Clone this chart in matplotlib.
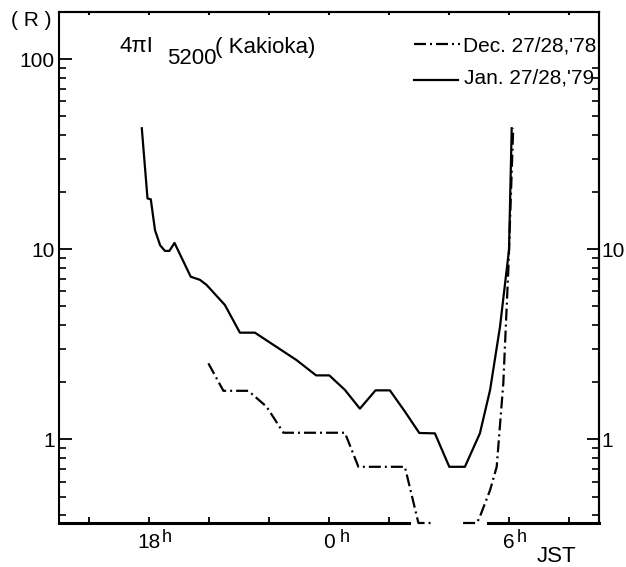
import numpy as np
import matplotlib.pyplot as plt
from matplotlib.ticker import LogLocator, NullFormatter

plt.rcParams['font.family'] = ['Liberation Sans', 'DejaVu Sans']

# hours JST counted on from the evening (24 = 0h, 30 = 6h next morning)
jan_hours = [17.76, 17.95, 18.06, 18.2, 18.37, 18.53, 18.68, 18.85, 19.39, 19.7,
             19.92, 20.53, 21.03, 21.53, 22.92, 23.57, 24.01, 24.53, 25.03, 25.55,
             26.03, 26.53, 27.01, 27.53, 28.01, 28.53, 29.03, 29.37, 29.7, 29.87,
             30.0, 30.09]
jan_r = [43.3, 18.5, 18.3, 12.6, 10.5, 9.8, 9.8, 10.8, 7.17, 6.9,
         6.49, 5.09, 3.64, 3.64, 2.61, 2.17, 2.17, 1.82, 1.45, 1.81,
         1.81, 1.40, 1.08, 1.075, 0.717, 0.717, 1.075, 1.82, 3.91, 6.63,
         9.9, 43.3]

# below the lower limit the record runs along the axis, nan = break
r_floor = 0.363
dec_hours = [19.98, 20.48, 21.31, 21.92, 22.48, 24.53, 24.98, 26.53, 26.98, 27.47,
             np.nan, 28.47, 28.93, 29.03, 29.37, 29.59, 29.81, 29.98, 30.14]
dec_r = [2.51, 1.80, 1.80, 1.485, 1.083, 1.083, 0.717, 0.717, r_floor, r_floor,
         np.nan, r_floor, r_floor, 0.392, 0.541, 0.717, 1.97, 7.97, 43.3]

hour_ticks = [18, 24, 30]
hour_labels = ['18', '0', '6']
minor_hours = [16, 20, 22, 26, 32]
top_hours = list(range(16, 33, 2))

W, H = 626, 567


def fxy(x, y):
    return x / W, 1 - y / H


fig = plt.figure(figsize=(W / 100, H / 100), dpi=100)
ax = fig.add_axes([59 / W, 1 - 523 / H, 540 / W, 511 / H])

dash_dot = (5.4, 1.8, 0.9, 1.8)
ax.plot(jan_hours, jan_r, color='black', lw=1.6)
ax.plot(dec_hours, dec_r, color='black', lw=1.6, dashes=dash_dot, clip_on=False)

ax.set_yscale('log')
ax.set_xlim(15, 33)
ax.set_ylim(r_floor, 177)

for s in ['left', 'top', 'right']:
    ax.spines[s].set_linewidth(1.5)
# bottom line is broken where the Dec. record runs along it
ax.spines['bottom'].set_visible(False)
ax.plot([15, 26.65], [r_floor, r_floor], color='black', lw=2.2, clip_on=False)
ax.plot([29.3, 33], [r_floor, r_floor], color='black', lw=2.2, clip_on=False)

ax.set_xticks(hour_ticks, hour_labels, fontsize=15)
ax.set_xticks(minor_hours, minor=True)
ax.tick_params(axis='x', which='both', direction='in', length=4, width=1.3,
               top=False, pad=7)
for hr, dx in zip(hour_ticks, [13, 11, 8]):
    ax.annotate('h', xy=(hr, 0), xycoords=ax.get_xaxis_transform(),
                xytext=(dx, -14), textcoords='offset pixels',
                ha='left', va='center', fontsize=13)

top = ax.secondary_xaxis('top')
top.set_xticks(top_hours)
top.tick_params(direction='in', length=2.5, width=1.5, labeltop=False)
top.spines['top'].set_linewidth(1.5)

ax.set_yticks([1, 10, 100], ['1', '10', '100'], fontsize=15)
ax.yaxis.set_minor_locator(LogLocator(base=10, subs=np.arange(2, 10)))
ax.yaxis.set_minor_formatter(NullFormatter())
ax.tick_params(axis='y', which='major', direction='in', length=9, width=1.3, pad=3)
ax.tick_params(axis='y', which='minor', direction='in', length=5, width=1.2)

right = ax.secondary_yaxis('right')
right.set_yticks([1, 10], ['1', '10'], fontsize=15)
right.yaxis.set_minor_locator(LogLocator(base=10, subs=np.arange(2, 10)))
right.yaxis.set_minor_formatter(NullFormatter())
right.tick_params(axis='y', which='major', direction='in', length=9, width=1.3, pad=2)
right.tick_params(axis='y', which='minor', direction='in', length=5, width=1.2)
right.spines['right'].set_linewidth(1.5)

fig.text(*fxy(31, 20), '( R )', ha='center', va='center', fontsize=15)
fig.text(*fxy(537, 556), 'JST', ha='left', va='center', fontsize=16)

fig.text(*fxy(120, 47), '4πI', ha='left', va='center', fontsize=16)
fig.text(*fxy(167, 59), '5200', ha='left', va='center', fontsize=16)
fig.text(*fxy(215, 48), '( Kakioka)', ha='left', va='center', fontsize=16)

x0, y0 = fxy(414, 44)
x1, _ = fxy(460, 44)
fig.add_artist(plt.Line2D([x0, x1], [y0, y0], color='black', lw=1.6, dashes=dash_dot))
fig.text(*fxy(463, 46), "Dec. 27/28,'78", ha='left', va='center', fontsize=15)
x0, y0 = fxy(414, 80)
x1, _ = fxy(458, 80)
fig.add_artist(plt.Line2D([x0, x1], [y0, y0], color='black', lw=1.6))
fig.text(*fxy(464, 78), "Jan. 27/28,'79", ha='left', va='center', fontsize=15)

fig.savefig('out.png', dpi=100)
